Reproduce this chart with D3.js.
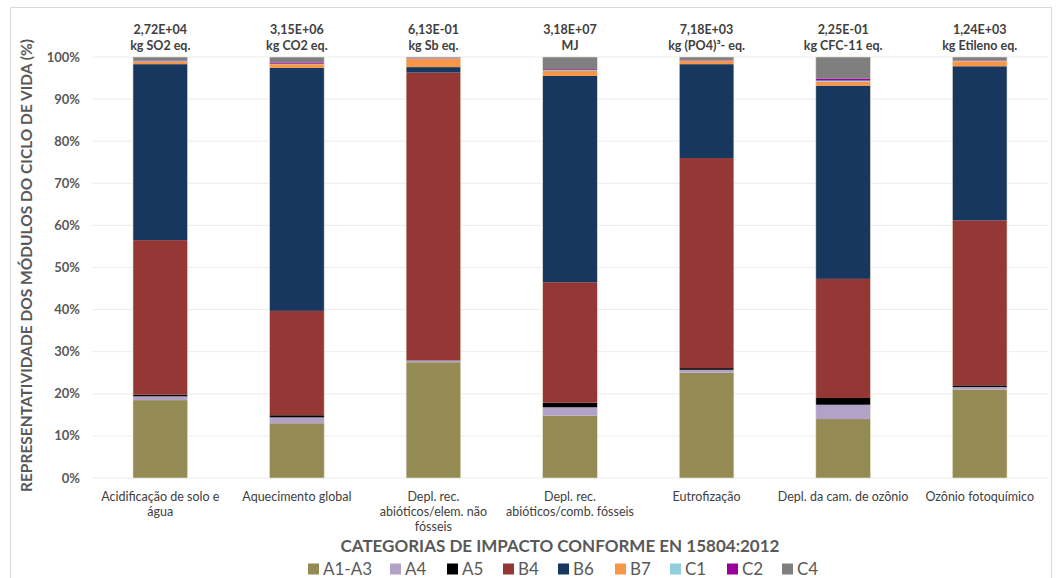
<!DOCTYPE html>
<html>
<head>
<meta charset="utf-8">
<script src="https://cdn.jsdelivr.net/npm/d3@7"></script>
<style>
  body { margin: 0; background: #fff; }
  svg { display: block; font-family: Lato, "Open Sans", sans-serif; }
</style>
</head>
<body>
<div id="chart"></div>
<script>
// categories (x axis), each label split in lines
const categories = [
  ["Acidificação de solo e", "água"],
  ["Aquecimento global"],
  ["Depl. rec.", "abióticos/elem. não", "fósseis"],
  ["Depl. rec.", "abióticos/comb. fósseis"],
  ["Eutrofização"],
  ["Depl. da cam. de ozônio"],
  ["Ozônio fotoquímico"],
];
const totalValues = ["2,72E+04", "3,15E+06", "6,13E-01", "3,18E+07", "7,18E+03", "2,25E-01", "1,24E+03"];
const totalUnits = ["kg SO2 eq.", "kg CO2 eq.", "kg Sb eq.", "MJ", "kg (PO4)³- eq.", "kg CFC-11 eq.", "kg Etileno eq."];

const modules = ["A1-A3", "A4", "A5", "B4", "B6", "B7", "C1", "C2", "C4"];
const moduleColors = ["#948a54", "#b3a2c7", "#000000", "#953735", "#17375e", "#f79646", "#92cddc", "#990099", "#7f7f7f"];

// share (%) of each module per category
const A1A3 = [18.5, 13.0, 27.5, 14.8, 25.0, 14.0, 21.0];
const A4 = [0.9, 1.4, 0.4, 2.0, 0.7, 3.4, 0.6];
const A5 = [0.4, 0.5, 0.05, 1.1, 0.4, 1.6, 0.4];
const B4 = [36.7, 24.8, 68.35, 28.6, 49.9, 28.3, 39.2];
const B6 = [41.8, 57.7, 1.3, 49.0, 22.3, 45.9, 36.6];
const B7 = [0.6, 0.9, 2.0, 1.2, 0.8, 0.9, 1.2];
const C1 = [0.1, 0.1, 0.1, 0.2, 0.1, 0.3, 0.1];
const C2 = [0.1, 0.3, 0.1, 0.2, 0.1, 0.5, 0.1];
const C4 = [0.9, 1.3, 0.2, 2.9, 0.7, 5.1, 0.8];
const series = [A1A3, A4, A5, B4, B6, B7, C1, C2, C4];

const yTicks = [0, 10, 20, 30, 40, 50, 60, 70, 80, 90, 100];

const W = 1060, H = 578;
const margin = { top: 57, right: 12, bottom: 100, left: 92 };
const plotW = 1048 - margin.left;
const plotH = 478 - margin.top;

const svg = d3.select("#chart").append("svg").attr("width", W).attr("height", H);

// chart frame
svg.append("rect")
  .attr("x", 10.5).attr("y", 7.5).attr("width", 1041).attr("height", 600)
  .attr("fill", "none").attr("stroke", "#d9d9d9");

const g = svg.append("g").attr("transform", `translate(${margin.left},${margin.top})`);

const rows = categories.map((c, i) => {
  const r = { i };
  modules.forEach((m, k) => (r[m] = series[k][i]));
  return r;
});

const x = d3.scaleBand().domain(d3.range(categories.length)).range([0, plotW]).paddingInner(0.6).paddingOuter(0.3);
const y = d3.scaleLinear().domain([0, 100]).range([plotH, 0]);

// gridlines
g.selectAll(".grid").data(yTicks).join("line")
  .attr("x1", 0).attr("x2", plotW)
  .attr("y1", (d) => y(d)).attr("y2", (d) => y(d))
  .attr("stroke", "#ececec").attr("stroke-width", 1);

// y tick labels
g.selectAll(".ytick").data(yTicks).join("text")
  .attr("x", -12).attr("y", (d) => y(d)).attr("dy", "0.35em")
  .attr("text-anchor", "end").attr("fill", "#595959")
  .attr("font-size", 13).attr("font-weight", "bold")
  .text((d) => d + "%");

const stacked = d3.stack().keys(modules)(rows);

g.selectAll(".layer").data(stacked).join("g")
  .attr("fill", (d, k) => moduleColors[k])
  .selectAll("rect").data((d) => d).join("rect")
  .attr("x", (d) => x(d.data.i))
  .attr("width", x.bandwidth())
  .attr("y", (d) => y(Math.min(d[1], 100)))
  .attr("height", (d) => Math.max(0, y(d[0]) - y(Math.min(d[1], 100))));

// bar outlines
g.selectAll(".outline").data(rows).join("rect")
  .attr("x", (d) => x(d.i)).attr("width", x.bandwidth())
  .attr("y", y(100)).attr("height", plotH)
  .attr("fill", "none").attr("stroke", "#e8e2d0").attr("stroke-width", 0.6);

// totals above bars
const totalLabels = g.selectAll(".total").data(rows).join("text")
  .attr("x", (d) => x(d.i) + x.bandwidth() / 2)
  .attr("text-anchor", "middle").attr("fill", "#404040")
  .attr("font-size", 12.5).attr("font-weight", "bold");
totalLabels.append("tspan").attr("y", -23).text((d) => totalValues[d.i]);
totalLabels.append("tspan").attr("x", (d) => x(d.i) + x.bandwidth() / 2).attr("y", -7).text((d) => totalUnits[d.i]);

// category labels
g.selectAll(".xlab").data(rows).join("text")
  .attr("text-anchor", "middle").attr("fill", "#404040").attr("font-size", 12.5)
  .each(function (d) {
    const cx = x(d.i) + x.bandwidth() / 2;
    d3.select(this).selectAll("tspan").data(categories[d.i]).join("tspan")
      .attr("x", cx).attr("y", (t, j) => plotH + 23 + j * 15).text((t) => t);
  });

// axis titles
svg.append("text")
  .attr("transform", `translate(32,${margin.top + plotH / 2 - 2}) rotate(-90)`)
  .attr("text-anchor", "middle").attr("fill", "#595959")
  .attr("font-size", 15.5).attr("font-weight", "bold")
  .text("REPRESENTATIVIDADE DOS MÓDULOS DO CICLO DE VIDA (%)");

svg.append("text")
  .attr("x", 560).attr("y", 552)
  .attr("text-anchor", "middle").attr("fill", "#595959")
  .attr("font-size", 17).attr("font-weight", "bold")
  .text("CATEGORIAS DE IMPACTO CONFORME EN 15804:2012");

// legend
const legendX = [308, 390, 447, 503, 558, 615, 670, 727, 782];
const legend = svg.selectAll(".legend").data(modules).join("g")
  .attr("transform", (d, k) => `translate(${legendX[k]},569)`);
legend.append("rect")
  .attr("x", 0).attr("y", -5.5).attr("width", 11).attr("height", 11)
  .attr("fill", (d, k) => moduleColors[k]);
legend.append("text")
  .attr("x", 15).attr("dy", "0.36em")
  .attr("fill", "#595959").attr("font-size", 17)
  .text((d) => d);
</script>
</body>
</html>
